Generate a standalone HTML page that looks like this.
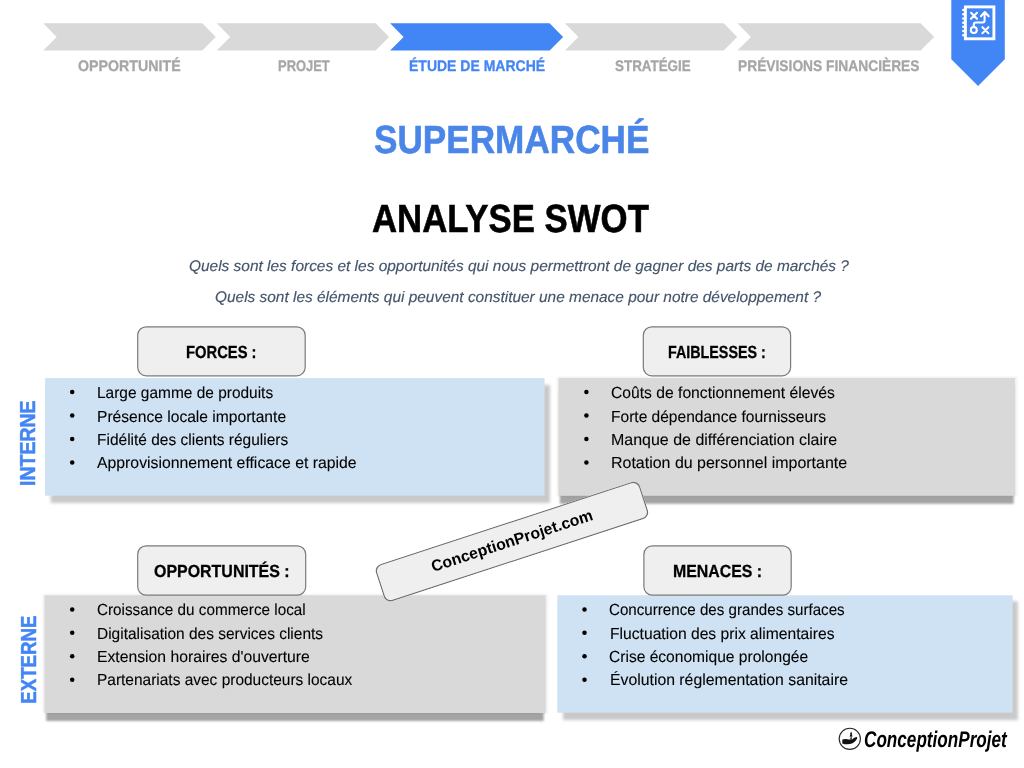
<!DOCTYPE html>
<html lang="fr"><head><meta charset="utf-8"><title>Analyse SWOT - Supermarché</title>
<style>
html,body{margin:0;padding:0;background:#fff}
body{width:1024px;height:768px;position:relative;overflow:hidden;font-family:"Liberation Sans",sans-serif}
.t{position:absolute;white-space:nowrap;line-height:1;transform-origin:0 0;font-family:"Liberation Sans",sans-serif;margin:0;padding:0;text-rendering:geometricPrecision}
.v{position:absolute;left:0;top:0;white-space:nowrap;line-height:1;transform-origin:0 0;text-rendering:geometricPrecision;font-weight:700;color:#4285f4;-webkit-text-stroke:0.5px #4285f4}
#wm{position:absolute;box-sizing:border-box;background:#efefef;box-shadow:inset 0 0 0 1.25px #707070;border-radius:7.5px;
 left:372.80px;top:522.30px;width:278.4px;height:39.4px;transform:rotate(-18.1deg);
 font-weight:700;font-size:15.85px;line-height:1;color:#000;text-align:center;white-space:nowrap;text-rendering:geometricPrecision}
#wm span{position:absolute;left:0;right:0;top:12.2px}
svg{position:absolute;left:0;top:0}
#root{position:absolute;left:0;top:0;width:1024px;height:768px;will-change:transform}
</style></head>
<body>
<div id="root">
<svg width="1024" height="100" viewBox="0 0 1024 100">
<polygon fill="#d9d9d9" points="43.2,23.2 202.3,23.2 215.8,36.9 202.3,50.6 43.2,50.6 56.7,36.9"/>
<polygon fill="#d9d9d9" points="216.7,23.2 375.6,23.2 389.1,36.9 375.6,50.6 216.7,50.6 230.2,36.9"/>
<polygon fill="#4285f4" points="390.1,23.2 549.6,23.2 563.1,36.9 549.6,50.6 390.1,50.6 403.6,36.9"/>
<polygon fill="#d9d9d9" points="564.9,23.2 723.7,23.2 737.2,36.9 723.7,50.6 564.9,50.6 578.4,36.9"/>
<polygon fill="#d9d9d9" points="737.4,23.2 920.6,23.2 934.1,36.9 920.6,50.6 737.4,50.6 750.9,36.9"/>
<polygon fill="#4285f4" points="951.3,0 1004.8,0 1004.8,59.2 978.1,85.9 951.3,59.2"/>
<g fill="none" stroke="#fff">
<rect x="965.4" y="6.9" width="28.5" height="31.9" stroke-width="2.9"/>
<path stroke-width="2.5" stroke-linecap="round" stroke-dasharray="0.01 4.2" d="M963.3,10V36"/>
<g stroke-width="2.05" stroke-linecap="round" stroke-linejoin="round">
<path d="M971,12.8l6,6M977,12.8l-6,6"/>
<path d="M982.4,27.2l6,6M988.4,27.2l-6,6"/>
<circle cx="973.8" cy="30" r="3"/>
<path d="M973.8,27v-2.6q0,-2 2,-2h6.8q2,0 2,-2V12.4M980.9,16.2l3.9,-4.2 3.9,4.2"/>
</g></g>
</svg>
<svg width="1024" height="768" viewBox="0 0 1024 768">
<defs>
<filter id="sb" x="-5%" y="-20%" width="110%" height="140%"><feGaussianBlur stdDeviation="1.6"/></filter>
<filter id="sg" x="-5%" y="-20%" width="110%" height="140%"><feGaussianBlur stdDeviation="0.8"/></filter>
<filter id="sh" x="-5%" y="-20%" width="110%" height="140%"><feGaussianBlur stdDeviation="1.2"/></filter>
</defs>
<g fill="#000">
<rect x="50.6" y="385" width="499.4" height="118" fill-opacity=".21" filter="url(#sb)"/>
<rect x="563" y="601.3" width="454.9" height="118.8" fill-opacity=".21" filter="url(#sb)"/>
<rect x="557.3" y="377" width="459.5" height="119" fill-opacity=".07" filter="url(#sh)"/>
<rect x="43" y="594.3" width="504.5" height="119" fill-opacity=".07" filter="url(#sh)"/>
<rect x="559.9" y="386" width="453.8" height="117.8" fill-opacity=".36" filter="url(#sg)"/>
<rect x="46.2" y="603" width="497.5" height="118" fill-opacity=".36" filter="url(#sg)"/>
</g>
<rect x="45.1" y="378.1" width="499.5" height="117.6" fill="#cfe2f3"/>
<rect x="558.6" y="378.1" width="456.3" height="117.7" fill="#d9d9d9"/>
<rect x="44.6" y="595.3" width="501.1" height="117.7" fill="#d9d9d9"/>
<rect x="557.3" y="595.3" width="455.3" height="117.4" fill="#cfe2f3"/>
</svg>
<svg width="1024" height="768" viewBox="0 0 1024 768"><g fill="#efefef" stroke="#7b7b7b" stroke-width="1.2">
<rect x="137.7" y="326.8" width="167.5" height="49" rx="8.5"/>
<rect x="643.3" y="326.8" width="147.3" height="49" rx="8.5"/>
<rect x="137.7" y="545.8" width="168" height="49.4" rx="8.5"/>
<rect x="643.9" y="545.8" width="147.3" height="49.4" rx="8.5"/>
</g></svg>
<svg width="1024" height="768" viewBox="0 0 1024 768"><g fill="#000"><circle cx="72.2" cy="392.1" r="2.25"/><circle cx="72.2" cy="415.5" r="2.25"/><circle cx="72.2" cy="438.9" r="2.25"/><circle cx="72.2" cy="462.4" r="2.25"/><circle cx="586.4" cy="392.1" r="2.25"/><circle cx="586.4" cy="415.5" r="2.25"/><circle cx="586.4" cy="438.9" r="2.25"/><circle cx="586.4" cy="462.4" r="2.25"/><circle cx="72.2" cy="609.4" r="2.25"/><circle cx="72.2" cy="632.8" r="2.25"/><circle cx="72.2" cy="656.2" r="2.25"/><circle cx="72.2" cy="679.7" r="2.25"/><circle cx="584.5" cy="609.4" r="2.25"/><circle cx="584.5" cy="632.8" r="2.25"/><circle cx="584.5" cy="656.2" r="2.25"/><circle cx="584.5" cy="679.7" r="2.25"/></g></svg>
<span id="n1" class="t" style="left:77.56px;top:59.00px;font-size:15.26px;font-weight:700;color:#a6a6a6;-webkit-text-stroke:0.3px #a6a6a6;transform:scaleX(0.9320)">OPPORTUNITÉ</span>
<span id="n2" class="t" style="left:277.61px;top:59.00px;font-size:15.26px;font-weight:700;color:#a6a6a6;-webkit-text-stroke:0.3px #a6a6a6;transform:scaleX(0.8481)">PROJET</span>
<span id="n3" class="t" style="left:408.62px;top:59.00px;font-size:15.26px;font-weight:700;color:#4285f4;-webkit-text-stroke:0.3px #4285f4;transform:scaleX(0.9177)">ÉTUDE DE MARCHÉ</span>
<span id="n4" class="t" style="left:614.68px;top:59.00px;font-size:15.26px;font-weight:700;color:#a6a6a6;-webkit-text-stroke:0.3px #a6a6a6;transform:scaleX(0.8788)">STRATÉGIE</span>
<span id="n5" class="t" style="left:737.60px;top:59.00px;font-size:15.26px;font-weight:700;color:#a6a6a6;-webkit-text-stroke:0.3px #a6a6a6;transform:scaleX(0.9038)">PRÉVISIONS FINANCIÈRES</span>
<span id="t1" class="t" style="left:373.71px;top:121.00px;font-size:39.24px;font-weight:700;color:#4a86e8;-webkit-text-stroke:0.6px #4a86e8;transform:scaleX(0.8959)">SUPERMARCHÉ</span>
<span id="t2" class="t" style="left:371.63px;top:200.00px;font-size:39.24px;font-weight:700;color:#000;-webkit-text-stroke:0.6px #000;transform:scaleX(0.8861)">ANALYSE SWOT</span>
<span id="s1" class="t" style="left:188.67px;top:259.00px;font-size:15.26px;font-style:italic;color:#44546a;-webkit-text-stroke:0.15px #44546a;transform:scaleX(1.0124)">Quels sont les forces et les opportunités qui nous permettront de gagner des parts de marchés ?</span>
<span id="s2" class="t" style="left:214.68px;top:290.00px;font-size:15.26px;font-style:italic;color:#44546a;-webkit-text-stroke:0.15px #44546a;transform:scaleX(1.0112)">Quels sont les éléments qui peuvent constituer une menace pour notre développement ?</span>
<span id="h1" class="t" style="left:185.63px;top:344.00px;font-size:17.44px;font-weight:700;color:#000;-webkit-text-stroke:0.3px #000;transform:scaleX(0.8467)">FORCES :</span>
<span id="h2" class="t" style="left:667.62px;top:344.00px;font-size:17.44px;font-weight:700;color:#000;-webkit-text-stroke:0.3px #000;transform:scaleX(0.8204)">FAIBLESSES :</span>
<span id="h3" class="t" style="left:153.65px;top:563.00px;font-size:17.44px;font-weight:700;color:#000;-webkit-text-stroke:0.3px #000;transform:scaleX(0.9149)">OPPORTUNITÉS :</span>
<span id="h4" class="t" style="left:672.58px;top:563.00px;font-size:17.44px;font-weight:700;color:#000;-webkit-text-stroke:0.3px #000;transform:scaleX(0.9092)">MENACES :</span>
<span id="la0" class="t" style="left:96.51px;top:386.00px;font-size:15.99px;color:#000;-webkit-text-stroke:0.1px #000;transform:scaleX(0.9670)">Large gamme de produits</span>
<span id="la1" class="t" style="left:96.60px;top:410.00px;font-size:15.99px;color:#000;-webkit-text-stroke:0.1px #000;transform:scaleX(0.9761)">Présence locale importante</span>
<span id="la2" class="t" style="left:96.74px;top:433.00px;font-size:15.99px;color:#000;-webkit-text-stroke:0.1px #000;transform:scaleX(0.9692)">Fidélité des clients réguliers</span>
<span id="la3" class="t" style="left:96.65px;top:456.00px;font-size:15.99px;color:#000;-webkit-text-stroke:0.1px #000;transform:scaleX(0.9881)">Approvisionnement efficace et rapide</span>
<span id="lb0" class="t" style="left:610.52px;top:386.00px;font-size:15.99px;color:#000;-webkit-text-stroke:0.1px #000;transform:scaleX(0.9800)">Coûts de fonctionnement élevés</span>
<span id="lb1" class="t" style="left:610.71px;top:410.00px;font-size:15.99px;color:#000;-webkit-text-stroke:0.1px #000;transform:scaleX(0.9722)">Forte dépendance fournisseurs</span>
<span id="lb2" class="t" style="left:610.55px;top:433.00px;font-size:15.99px;color:#000;-webkit-text-stroke:0.1px #000;transform:scaleX(0.9995)">Manque de différenciation claire</span>
<span id="lb3" class="t" style="left:610.56px;top:456.00px;font-size:15.99px;color:#000;-webkit-text-stroke:0.1px #000;transform:scaleX(0.9989)">Rotation du personnel importante</span>
<span id="lc0" class="t" style="left:96.54px;top:603.00px;font-size:15.99px;color:#000;-webkit-text-stroke:0.1px #000;transform:scaleX(0.9550)">Croissance du commerce local</span>
<span id="lc1" class="t" style="left:96.51px;top:627.00px;font-size:15.99px;color:#000;-webkit-text-stroke:0.1px #000;transform:scaleX(0.9674)">Digitalisation des services clients</span>
<span id="lc2" class="t" style="left:96.57px;top:650.00px;font-size:15.99px;color:#000;-webkit-text-stroke:0.1px #000;transform:scaleX(0.9840)">Extension horaires d'ouverture</span>
<span id="lc3" class="t" style="left:96.51px;top:673.00px;font-size:15.99px;color:#000;-webkit-text-stroke:0.1px #000;transform:scaleX(0.9674)">Partenariats avec producteurs locaux</span>
<span id="ld0" class="t" style="left:608.65px;top:603.00px;font-size:15.99px;color:#000;-webkit-text-stroke:0.1px #000;transform:scaleX(0.9473)">Concurrence des grandes surfaces</span>
<span id="ld1" class="t" style="left:609.63px;top:627.00px;font-size:15.99px;color:#000;-webkit-text-stroke:0.1px #000;transform:scaleX(0.9796)">Fluctuation des prix alimentaires</span>
<span id="ld2" class="t" style="left:608.59px;top:650.00px;font-size:15.99px;color:#000;-webkit-text-stroke:0.1px #000;transform:scaleX(0.9743)">Crise économique prolongée</span>
<span id="ld3" class="t" style="left:609.58px;top:673.00px;font-size:15.99px;color:#000;-webkit-text-stroke:0.1px #000;transform:scaleX(0.9881)">Évolution réglementation sanitaire</span>
<span id="logo" class="t" style="left:863.67px;top:728.00px;font-size:22.67px;font-weight:700;font-style:italic;color:#000;transform:scaleX(0.7565)">ConceptionProjet</span>
<span class="v" id="v1" style="font-size:21.6px;transform:translate(16.75px,485.94px) rotate(-90deg) scaleX(0.9011)">INTERNE</span>
<span class="v" id="v2" style="font-size:21.6px;transform:translate(17.54px,703.79px) rotate(-90deg) scaleX(0.8651)">EXTERNE</span>
<div id="wm"><span>ConceptionProjet.com</span></div>
<svg width="1024" height="768" viewBox="0 0 1024 768" style="pointer-events:none">
<circle cx="849.8" cy="738.8" r="10.6" fill="#fff" stroke="#2a2a2a" stroke-width="1.15"/>
<path fill="#111" d="M842.3,739.6c2.2,-.9 4.4,-.9 6.4,0l3.2,-.2c2,-1.6 3.6,-2.6 5.2,-2.4c.6,1.8 -1.4,4.4 -4.6,6.2c-3,1.4 -7,1.4 -10.2,.2z"/>
<path fill="#111" d="M850.2,739.6l.6,-3.2l-1.2,0l.9,-2.2l-.6,0l1.2,-2.6l1.2,2.6l-.6,0l.9,2.2l-1.2,0l.6,3.2z"/>
</svg>
</div>
</body></html>
